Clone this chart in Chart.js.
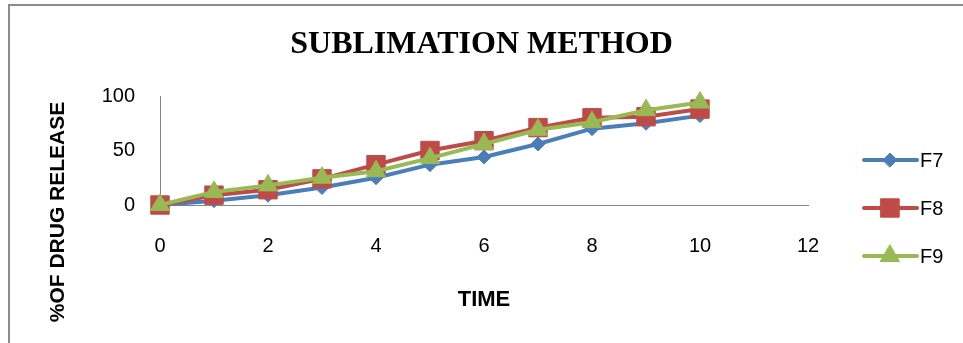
<!DOCTYPE html>
<html>
<head>
<meta charset="utf-8">
<script src="https://cdn.jsdelivr.net/npm/chart.js@4.4.1/dist/chart.umd.min.js"></script>
<style>
  html, body { margin: 0; padding: 0; background: #fff; overflow: hidden; }
  #wrap { position: relative; width: 963px; height: 343px; }
  #frame { position: absolute; left: 8px; top: 4px; width: 1000px; height: 400px;
           border-top: 2px solid #8c8c8c; border-left: 2px solid #8c8c8c; }
  #mycanvas { position: absolute; left: 0; top: 0; }
</style>
</head>
<body>
<div id="wrap">
  <div id="frame"></div>
  <canvas id="mycanvas" width="963" height="343"></canvas>
</div>
<script>
// time points and % drug release
var time = [0, 1, 2, 3, 4, 5, 6, 7, 8, 9, 10];
var f7 = [0, 4, 9, 16, 25, 37, 44, 56, 70, 75, 82];
var f8 = [0, 9, 14, 24, 37, 50, 59, 71, 80, 81, 88];
var f9 = [0, 12, 18, 25, 31, 43, 56, 69, 76, 87, 94];
var xTicks = [0, 2, 4, 6, 8, 10, 12];
var yTicks = [0, 50, 100];

function pts(ys){
	var out = [];
	for (var i in time) out.push({x: time[i], y: ys[i]});
	return out;
}

var sans = "'Liberation Sans', Arial, sans-serif";

// y axis title + excel style legend on the right
var extras = {
	id: 'extras',
	afterDraw: function(chart){
		var ctx = chart.ctx;
		ctx.save();
		ctx.fillStyle = '#000';
		ctx.font = 'bold 21px ' + sans;
		ctx.textAlign = 'center';
		ctx.textBaseline = 'middle';
		ctx.translate(58, 212);
		ctx.rotate(-Math.PI / 2);
		ctx.fillText('%OF DRUG RELEASE', 0, 0);
		ctx.restore();

		var ds = chart.data.datasets;
		for (var i = 0; i < ds.length; i++){
			var y = 160 + i * 48;
			ctx.save();
			ctx.strokeStyle = ds[i].borderColor;
			ctx.lineWidth = 4;
			ctx.lineCap = 'round';
			ctx.beginPath();
			ctx.moveTo(864, y);
			ctx.lineTo(917, y);
			ctx.stroke();
			ctx.fillStyle = ds[i].pointBackgroundColor;
			ctx.strokeStyle = ds[i].pointBorderColor;
			ctx.lineWidth = 1;
			Chart.helpers.drawPoint(ctx, {pointStyle: ds[i].pointStyle, radius: ds[i].pointRadius, rotation: 0, borderWidth: 1}, 890, y);
			ctx.fillStyle = '#000';
			ctx.font = '20px ' + sans;
			ctx.textAlign = 'left';
			ctx.textBaseline = 'middle';
			ctx.fillText(ds[i].label, 920, y + 1);
			ctx.restore();
		}
	}
};

var chartdata = {
	datasets: [
		{
			label: 'F7',
			data: pts(f7),
			borderColor: '#4a7ebb',
			pointBackgroundColor: '#4a7ebb',
			pointBorderColor: '#4a7ebb',
			pointStyle: 'rectRot',
			pointRadius: 7,
			order: 3
		},
		{
			label: 'F8',
			data: pts(f8),
			borderColor: '#be4b48',
			pointBackgroundColor: '#be4b48',
			pointBorderColor: '#be4b48',
			pointStyle: 'rect',
			pointRadius: 13,
			order: 2
		},
		{
			label: 'F9',
			data: pts(f9),
			borderColor: '#98b954',
			pointBackgroundColor: '#98b954',
			pointBorderColor: '#98b954',
			pointStyle: 'triangle',
			pointRadius: 11,
			order: 1
		}
	]
};

var cxt = document.getElementById('mycanvas');
var lineGraph = new Chart(cxt, {
	type: 'line',
	data: chartdata,
	plugins: [extras],
	options: {
		responsive: false,
		animation: false,
		events: [],
		datasets: {
			line: { borderWidth: 4, tension: 0, clip: false, pointBorderWidth: 1, showLine: true }
		},
		layout: { padding: 0 },
		plugins: {
			legend: { display: false },
			tooltip: { enabled: false },
			title: {
				display: true,
				text: 'SUBLIMATION METHOD',
				color: '#000',
				font: { family: "'Liberation Serif', 'Times New Roman', serif", size: 32, weight: 'bold' },
				padding: { top: 26, bottom: 31.6 }
			}
		},
		scales: {
			x: {
				type: 'linear',
				min: 0,
				max: 12,
				afterBuildTicks: function(axis){ axis.ticks = xTicks.map(function(v){ return {value: v}; }); },
				afterFit: function(axis){ axis.height = 138; },
				grid: { display: false, drawTicks: false },
				border: { display: true, color: '#868686', width: 1 },
				ticks: { padding: 29, color: '#000', font: { family: sans, size: 20 } },
				title: {
					display: true,
					text: 'TIME',
					color: '#000',
					font: { family: sans, size: 22, weight: 'bold' },
					padding: { top: 0, bottom: 30 }
				}
			},
			y: {
				min: 0,
				max: 100,
				afterBuildTicks: function(axis){ axis.ticks = yTicks.map(function(v){ return {value: v}; }); },
				afterFit: function(axis){ axis.width = 160; },
				grid: { display: false, drawTicks: false },
				border: { display: true, color: '#868686', width: 1 },
				ticks: { padding: 25, color: '#000', font: { family: sans, size: 20 } }
			},
			// empty right-hand box that keeps room for the legend
			side: {
				position: 'right',
				min: 0,
				max: 100,
				afterFit: function(axis){ axis.width = 155; },
				grid: { display: false, drawTicks: false },
				border: { display: false },
				ticks: { display: false }
			}
		}
	}
});
</script>
</body>
</html>
